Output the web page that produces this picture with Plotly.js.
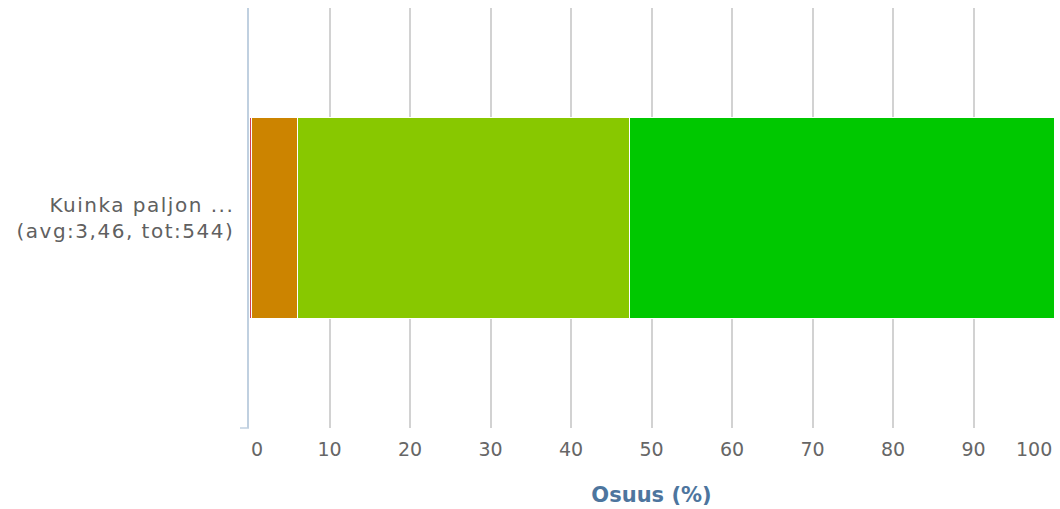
<!DOCTYPE html>
<html>
<head>
<meta charset="utf-8">
<script src="https://cdn.plot.ly/plotly-3.0.1.min.js"></script>
<style>
html,body{margin:0;padding:0;background:#fff;}
#chart{width:1060px;height:509px;}
#chart .ytick text{letter-spacing:1.5px;}
</style>
</head>
<body>
<div id="chart"></div>
<script>
// Data
const categories = ["Kuinka paljon ...<br>(avg:3,46, tot:544)"];
const seriesNames = ["1", "2", "3", "4"];
const seriesCounts = [2, 31, 224, 287];
const seriesPercent = [0.37, 5.70, 41.18, 52.76];
const seriesColors = ["#d0405a", "#cc8400", "#88c800", "#00c800"];
const tickValues = [0, 10, 20, 30, 40, 50, 60, 70, 80, 90, 100];
const tickLabels = ["", "10", "20", "30", "40", "50", "60", "70", "80", "90", ""];

const font = "'DejaVu Sans', sans-serif";

const traces = seriesNames.map((n, i) => ({
  type: "bar",
  orientation: "h",
  name: n,
  y: categories,
  x: [seriesPercent[i]],
  customdata: [seriesCounts[i]],
  marker: { color: seriesColors[i], line: { color: "#ffffff", width: 1 } },
  hovertemplate: "%{x:.2f}% (%{customdata})<extra></extra>"
}));

const layout = {
  width: 1060, height: 509,
  margin: { l: 249, r: 6, t: 8, b: 81, pad: 0 },
  barmode: "stack",
  bargap: 0.52,
  showlegend: false,
  paper_bgcolor: "#ffffff",
  plot_bgcolor: "#ffffff",
  font: { family: font, color: "#666666", size: 16 },
  xaxis: {
    range: [0, 100],
    tickvals: tickValues,
    ticktext: tickLabels,
    showgrid: true,
    gridcolor: "#d2d2d2",
    gridwidth: 1.5,
    zeroline: false,
    showline: false,
    ticks: "",
    tickfont: { size: 19, color: "#666666", family: font },
    ticklabelstandoff: 8,
    title: { text: "<b>Osuus (%)</b>", font: { size: 21, color: "#4d759e", family: font }, standoff: 28 },
    fixedrange: true
  },
  yaxis: {
    type: "category",
    showline: true,
    linecolor: "#c0d0e0",
    linewidth: 1.5,
    showgrid: false,
    zeroline: false,
    ticks: "",
    tickfont: { size: 20, color: "#606060", family: font },
    ticklabelstandoff: 9,
    fixedrange: true
  },
  shapes: [
    { type: "line", xref: "paper", yref: "paper", xsizemode: "pixel", xanchor: 0,
      x0: -9, x1: 0, y0: 0, y1: 0, line: { color: "#c0d0e0", width: 1.5 } }
  ],
  annotations: [
    { xref: "paper", yref: "paper", x: 0, y: 0, yshift: -21, xanchor: "left", yanchor: "middle",
      text: String(tickValues[0]), showarrow: false, font: { size: 19, color: "#666666", family: font } },
    { xref: "paper", yref: "paper", x: 1, y: 0, yshift: -21, xanchor: "right", yanchor: "middle",
      text: String(tickValues[tickValues.length - 1]), showarrow: false, font: { size: 19, color: "#666666", family: font } }
  ]
};

Plotly.newPlot("chart", traces, layout, { displayModeBar: false });
</script>
</body>
</html>
